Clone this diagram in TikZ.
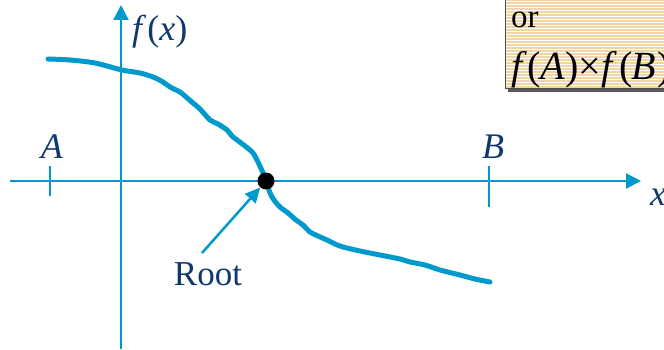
\documentclass[tikz,border=0pt]{standalone}
\usepackage{fontspec}
\setmainfont{Liberation Serif}
\usetikzlibrary{arrows.meta}
\definecolor{axisblue}{RGB}{0,153,204}
\definecolor{navy}{RGB}{16,56,110}
\definecolor{tan}{RGB}{240,214,164}
\tikzset{
  axis/.style={draw=axisblue, line width=2.2pt, -{Triangle[length=15pt,width=15pt]}},
  tick/.style={draw=axisblue, line width=2.2pt},
  curve/.style={draw=axisblue, line width=5pt, line join=round, line cap=round},
  lbl/.style={text=navy, font=\fontsize{36}{36}\selectfont, inner sep=0pt},
  pointer/.style={draw=axisblue, line width=2.5pt, -{Triangle[length=15pt,width=14pt]}}
}
\begin{document}
\begin{tikzpicture}[x=1pt,y=-1pt]
\useasboundingbox (0,0) rectangle (664,350);
% box
\begin{scope}
\clip (0,0) rectangle (664,350);
\fill[gray!70!black] (508,3) rectangle (700,92);
\fill[tan] (505,0) rectangle (700,89);
\foreach \yy in {1,4,...,88} { \draw[white, line width=0.9pt] (505,\yy) -- (700,\yy); }
\draw[gray!60!black, line width=1pt] (505,-2) -- (505,89) -- (700,89);
\node[lbl, anchor=base west, text=black, font=\fontsize{33}{33}\selectfont] (or) at (511,28) {or};
\node[lbl, anchor=base west, text=black, font=\fontsize{40}{40}\selectfont] (prod) at (511,80) {\textit{f}\kern1pt(\kern-1pt\textit{A}\kern1pt)\kern-1pt×\kern1pt\textit{f}\kern2pt(\kern-1pt\textit{B}\kern1pt)};
\end{scope}
% axes
\coordinate (xs) at (10,181);
\coordinate (xe) at (641,181);
\coordinate (ys) at (121,349);
\coordinate (ye) at (121,5);
\draw[axis] (xs) -- (xe);
\draw[axis] (ys) -- (ye);
% ticks
\coordinate (at1) at (50,166); \coordinate (at2) at (50,196);
\coordinate (bt1) at (489,166); \coordinate (bt2) at (489,207);
\draw[tick] (at1) -- (at2);
\draw[tick] (bt1) -- (bt2);
% labels
\node[lbl, anchor=base] (A) at (52,158) {\textit{A}};
\node[lbl, anchor=base] (B) at (493,158) {\textit{B}};
\node[lbl, anchor=base west] (x) at (650,205) {\textit{x}};
\node[lbl, anchor=base west] (fx) at (132,41) {\textit{f}\kern1pt(\textit{x})};
% curve
\draw[curve] plot[smooth, tension=0.5] coordinates {
 (48,59) (70,60) (95,63) (122,70) (140,73) (153,77) (163,82) (170,87) (180,92)
 (186,97) (193,103) (200,109) (210,120) (218,124) (227,130) (232,136) (237,140)
 (245,146) (253,153) (258,162) (263,173) (267,183) (270,193) (274,200) (280,207)
 (288,213) (296,220) (303,225) (310,232) (318,236) (327,240) (335,244) (343,247)
 (360,251) (380,255) (400,259) (410,262) (425,265) (440,270) (460,275) (475,279) (490,282)};
% root point
\fill[black] (266,181) circle (8.5pt);
\node[circle, minimum size=17pt, inner sep=0pt] (root) at (266,181) {};
\coordinate (ptail) at (202,253);
\draw[pointer] (ptail) -- (root);
\node[lbl, anchor=base, font=\fontsize{35}{35}\selectfont] (rootlbl) at (208,285) {Root};
\end{tikzpicture}
\end{document}
